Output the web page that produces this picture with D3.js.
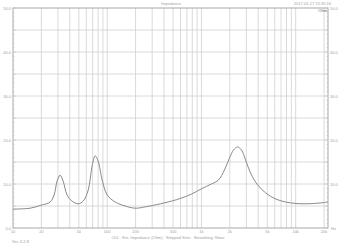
<!DOCTYPE html>
<html>
<head>
<meta charset="utf-8">
<script src="https://cdn.jsdelivr.net/npm/d3@7"></script>
<style>
  body { margin: 0; background: #fff; }
  svg { display: block; font-family: 'Liberation Sans', Arial, sans-serif; }
  .grid line { stroke: #d0d0d0; stroke-width: 0.8; }
  .lbl { fill: #a0a0a0; font-size: 4px; }
</style>
</head>
<body>
<svg id="chart"></svg>
<script>
(function () {
  'use strict';

  // impedance curve (Hz, Ohm)
  var freqs = [10, 15.2, 20, 24.8, 27.3, 29.4, 31.6, 34, 37.5, 42.4, 49.1, 55.6, 62.8, 69.2, 74.5, 80.1,
    88.4, 100, 121.6, 155, 198.5, 253, 366, 480, 612, 783, 1000, 1277, 1517, 1757, 1986, 2188, 2415,
    2666, 2938, 3320, 3945, 4797, 6125, 8850, 12770, 18450, 22050];
  var ohms = [4.3, 4.5, 5.2, 5.9, 7.5, 10.7, 12.0, 10.7, 7.5, 6.1, 5.5, 6.1, 8.6, 14.1, 16.4, 15.2,
    10.9, 7.5, 5.9, 5.0, 4.5, 4.8, 5.5, 6.1, 6.8, 7.7, 8.9, 10.0, 10.9, 13.2, 15.9, 17.7, 18.4,
    17.7, 15.5, 12.5, 9.8, 8.0, 6.6, 5.7, 5.5, 5.7, 5.9];

  var xTicks = [10, 20, 50, 100, 200, 500, 1000, 2000, 5000, 10000, 20000];
  var xTickText = ['10', '20', '50', '100', '200', '500', '1k', '2k', '5k', '10k', '20k'];
  var yTicks = [0, 10, 20, 30, 40, 50];
  var yTicksRight = [10, 20, 30, 40, 50];

  var width = 342;
  var height = 246;
  var margin = { top: 8, right: 14, bottom: 18, left: 13 };
  var w = width - margin.left - margin.right;
  var h = height - margin.top - margin.bottom;

  var svg = d3.select('#chart')
    .attr('width', width)
    .attr('height', height);

  var x = d3.scaleLog().domain([10, 22050]).range([0, w]);
  var y = d3.scaleLinear().domain([0, 50]).range([h, 0]);

  var g = svg.append('g')
    .attr('transform', 'translate(' + margin.left + ',' + margin.top + ')');

  // vertical grid (1..9 per decade)
  var vLines = [];
  [10, 100, 1000, 10000].forEach(function (dec) {
    for (var k = 1; k < 10; k++) {
      if (dec * k > 10 && dec * k < 22050) vLines.push(dec * k);
    }
  });

  var grid = g.append('g').attr('class', 'grid');
  grid.selectAll('.v')
    .data(vLines)
    .enter()
    .append('line')
    .attr('x1', function (d) { return x(d); })
    .attr('x2', function (d) { return x(d); })
    .attr('y1', 0)
    .attr('y2', h);

  grid.selectAll('.h')
    .data(d3.range(5, 50, 5))
    .enter()
    .append('line')
    .attr('x1', 0)
    .attr('x2', w)
    .attr('y1', function (d) { return y(d); })
    .attr('y2', function (d) { return y(d); });

  // frame
  g.append('rect')
    .attr('width', w)
    .attr('height', h)
    .attr('fill', 'none')
    .attr('stroke', '#a8a8a8')
    .attr('stroke-width', 1);

  // minor ticks on both sides
  var minor = d3.range(0, 51, 1);
  g.selectAll('.tl')
    .data(minor)
    .enter()
    .append('line')
    .attr('x1', 0)
    .attr('x2', function (d) { return d % 5 === 0 ? 3 : 1.5; })
    .attr('y1', function (d) { return y(d); })
    .attr('y2', function (d) { return y(d); })
    .attr('stroke', '#bbb')
    .attr('stroke-width', 0.5);
  g.selectAll('.tr')
    .data(minor)
    .enter()
    .append('line')
    .attr('x1', w)
    .attr('x2', function (d) { return w - (d % 5 === 0 ? 3 : 1.5); })
    .attr('y1', function (d) { return y(d); })
    .attr('y2', function (d) { return y(d); })
    .attr('stroke', '#bbb')
    .attr('stroke-width', 0.5);

  // axis labels
  g.selectAll('.yl')
    .data(yTicks)
    .enter()
    .append('text')
    .attr('class', 'lbl')
    .attr('x', -2)
    .attr('y', function (d) { return y(d) + 1.5; })
    .attr('text-anchor', 'end')
    .text(function (d) { return d.toFixed(1); });

  g.selectAll('.yr')
    .data(yTicksRight)
    .enter()
    .append('text')
    .attr('class', 'lbl')
    .attr('x', w + 2)
    .attr('y', function (d) { return y(d) + 1.5; })
    .text(function (d) { return d.toFixed(1); });

  g.selectAll('.xl')
    .data(xTicks)
    .enter()
    .append('text')
    .attr('class', 'lbl')
    .attr('x', function (d) { return x(d); })
    .attr('y', h + 5)
    .attr('text-anchor', 'middle')
    .text(function (d, i) { return xTickText[i]; });

  g.append('text')
    .attr('class', 'lbl')
    .attr('x', w + 3)
    .attr('y', h + 1.5)
    .text('Hz');

  g.append('text')
    .attr('class', 'lbl')
    .attr('x', w - 1)
    .attr('y', 3.5)
    .attr('text-anchor', 'end')
    .style('fill', '#666')
    .text('Ohm');

  // curve
  var line = d3.line()
    .x(function (d) { return x(d[0]); })
    .y(function (d) { return y(d[1]); })
    .curve(d3.curveCatmullRom.alpha(0.5));

  g.append('path')
    .datum(freqs.map(function (f, i) { return [f, ohms[i]]; }))
    .attr('d', line)
    .attr('fill', 'none')
    .attr('stroke', '#8a8a8a')
    .attr('stroke-width', 1);

  // titles and notes
  svg.append('text')
    .attr('class', 'lbl')
    .attr('x', 171)
    .attr('y', 5)
    .attr('text-anchor', 'middle')
    .text('Impedance');

  svg.append('text')
    .attr('class', 'lbl')
    .attr('x', 331)
    .attr('y', 5)
    .attr('text-anchor', 'end')
    .text('2017-01-17 15:35:16');

  svg.append('text')
    .attr('class', 'lbl')
    .attr('x', 168)
    .attr('y', 239)
    .attr('text-anchor', 'middle')
    .text('Ch1 · Ext. Impedance (Ohm) · Stepped Sine · Smoothing: None');

  svg.append('text')
    .attr('class', 'lbl')
    .attr('x', 12)
    .attr('y', 243)
    .text('Ver. 6.2.8');
}());
</script>
</body>
</html>
